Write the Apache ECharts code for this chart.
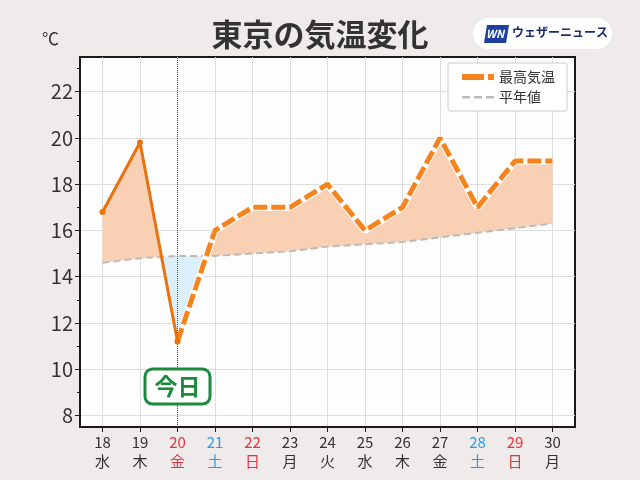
<!DOCTYPE html>
<html><head><meta charset="utf-8">
<script src="https://cdn.jsdelivr.net/npm/echarts@6/dist/echarts.min.js"></script>
<style>html,body{margin:0;padding:0;background:#efebea;}#c{width:640px;height:480px;}</style>
</head><body><div id="c"></div>
<script>
const days = [18,19,20,21,22,23,24,25,26,27,28,29,30];
const weekdays = ['水','木','金','土','日','月','火','水','木','金','土','日','月'];
const dayColors = ['k','k','r','b','r','k','k','k','k','k','b','r','k'];
const maxTemp = [16.8,19.8,11.2,16,17,17,18,16,17,20,17,19,19];
const normalTemp = [14.6,14.8,14.9,14.9,15.0,15.1,15.3,15.4,15.5,15.7,15.9,16.1,16.3];
const observedCount = 3; // 18..20 observed
const yTicks = [8,10,12,14,16,18,20,22];
const yMinorTicks = [9,11,13,15,17,19,21,23];
const todayDay = 20;

const FONT = '"Noto Sans CJK JP", "Noto Sans", sans-serif';
const peach = '#f9d0b3', blue = '#dbeffa';

const segData = [];
for (let i = 0; i < days.length - 1; i++) {
  segData.push([days[i], maxTemp[i], normalTemp[i], days[i+1], maxTemp[i+1], normalTemp[i+1]]);
}
const obs = days.slice(0, observedCount).map((d,i)=>[d, maxTemp[i]]);
const fc = days.slice(observedCount-1).map((d,i)=>[d, maxTemp[i+observedCount-1]]);
const norm = days.map((d,i)=>[d, normalTemp[i]]);

const chart = echarts.init(document.getElementById('c'));
const colorMap = {k:'#333333', r:'#e8323c', b:'#2b9be0'};

chart.setOption({
  backgroundColor: '#efebea',
  animation: false,
  textStyle: {fontFamily: FONT},
  grid: {left: 80, right: 65, top: 57, bottom: 53, show: true, backgroundColor: '#fdfdfd', borderColor: '#1a1a1a', borderWidth: 2},
  title: {text: '東京の気温変化', left: 'center', top: 14, textStyle: {fontFamily: FONT, fontSize: 31, fontWeight: 'bold', color: '#333'}},
  legend: {
    data: [
      {name: '最高気温', icon: 'path://M0,0M32,14M0,4H22V10H0ZM26,4H32V10H26Z', itemStyle: {color: '#f5841f'}},
      {name: '平年値', icon: 'path://M0,0M32,14M0,6H8V8.5H0ZM12,6H20V8.5H12ZM24,6H32V8.5H24Z', itemStyle: {color: '#bbbbbb'}}
    ],
    right: 73, top: 63, orient: 'vertical',
    backgroundColor: '#fff', borderColor: '#cccccc', borderWidth: 1, borderRadius: 2,
    padding: [7, 12, 7, 14], itemGap: 6, itemWidth: 32, itemHeight: 14,
    textStyle: {fontFamily: FONT, fontSize: 14, color: '#333'}
  },
  xAxis: {
    type: 'value', min: 17.4, max: 30.6,
    axisLine: {show: true, lineStyle: {color: '#1a1a1a', width: 2}},
    axisTick: {show: true, length: 5, lineStyle: {color: '#1a1a1a'}, customValues: days},
    axisLabel: {
      customValues: days, margin: 6, lineHeight: 19,
      formatter: function (v) {
        const i = days.indexOf(v);
        if (i < 0) return '';
        const c = dayColors[i];
        return '{' + c + '|' + v + '}\n{' + c + '|' + weekdays[i] + '}';
      },
      rich: {
        k: {color: colorMap.k, fontSize: 15, fontFamily: FONT, lineHeight: 19},
        r: {color: colorMap.r, fontSize: 15, fontFamily: FONT, lineHeight: 19},
        b: {color: colorMap.b, fontSize: 15, fontFamily: FONT, lineHeight: 19}
      }
    },
    splitLine: {show: true, lineStyle: {color: '#dddddd', width: 1}}
  },
  yAxis: [{
    type: 'value', min: 7.5, max: 23.5,
    axisLine: {show: true, lineStyle: {color: '#1a1a1a', width: 2}},
    axisTick: {show: true, length: 5, lineStyle: {color: '#1a1a1a'}, customValues: yTicks},
    axisLabel: {customValues: yTicks, fontSize: 20, color: '#333', margin: 7, fontFamily: FONT},
    splitLine: {show: true, lineStyle: {color: '#dddddd', width: 1}}
  }, {
    type: 'value', min: 7.5, max: 23.5, position: 'left',
    axisLine: {show: false},
    axisTick: {show: true, length: 3, lineStyle: {color: '#1a1a1a'}, customValues: yMinorTicks},
    axisLabel: {show: false},
    splitLine: {show: false}
  }],
  series: [
    {
      type: 'custom', name: 'fill', z: 1, silent: true,
      data: segData,
      encode: {x: [0, 3], y: [1, 2, 4, 5]},
      renderItem: function (params, api) {
        const x0 = api.value(0), m0 = api.value(1), n0 = api.value(2);
        const x1 = api.value(3), m1 = api.value(4), n1 = api.value(5);
        const d0 = m0 - n0, d1 = m1 - n1;
        const P = (x, y) => api.coord([x, y]);
        const children = [];
        if (d0 * d1 >= 0) {
          children.push({type: 'polygon', shape: {points: [P(x0,m0), P(x1,m1), P(x1,n1), P(x0,n0)]}, style: {fill: (d0 + d1) >= 0 ? peach : blue}});
        } else {
          const t = d0 / (d0 - d1);
          const xc = x0 + t * (x1 - x0), yc = n0 + t * (n1 - n0);
          children.push({type: 'polygon', shape: {points: [P(x0,m0), P(xc,yc), P(x0,n0)]}, style: {fill: d0 > 0 ? peach : blue}});
          children.push({type: 'polygon', shape: {points: [P(xc,yc), P(x1,m1), P(x1,n1)]}, style: {fill: d1 > 0 ? peach : blue}});
        }
        return {type: 'group', children: children};
      }
    },
    {
      type: 'line', name: '平年値', data: norm, z: 3, showSymbol: false, symbol: 'none',
      lineStyle: {color: '#bbbbbb', width: 2, type: [7, 4]}, itemStyle: {color: '#bbbbbb'}
    },
    {
      type: 'line', name: 'fcbase', data: fc, z: 4, showSymbol: false, symbol: 'none',
      lineStyle: {color: '#ffffff', width: 7}
    },
    {
      type: 'line', name: '最高気温', data: fc, z: 5, showSymbol: false, symbol: 'none',
      lineStyle: {color: '#f5841f', width: 5, type: [14, 4]}, itemStyle: {color: '#f5841f'}
    },
    {
      type: 'line', name: 'obs', data: obs, z: 6, symbol: 'circle', symbolSize: 6, showSymbol: true,
      lineStyle: {color: '#e8720e', width: 3}, itemStyle: {color: '#e8720e'},
      markLine: {
        silent: true, symbol: 'none', label: {show: false},
        lineStyle: {color: '#555', width: 1, type: 'dotted'},
        data: [{xAxis: todayDay}]
      },
      markPoint: {
        silent: true, symbol: 'rect', symbolSize: 0,
        data: [{coord: [todayDay, 9.25], value: '今日'}],
        label: {
          show: true, formatter: '今日', position: 'inside',
          fontSize: 23, fontWeight: 'bold', color: '#1b8a3c', fontFamily: FONT,
          backgroundColor: '#ffffff', borderColor: '#1b8a3c', borderWidth: 3, borderRadius: 6,
          padding: [5, 8, 4, 8]
        }
      }
    }
  ],
  graphic: [
    {type: 'text', left: 42, top: 30, style: {text: '℃', fontSize: 17, fill: '#333', fontFamily: FONT}},
    {type: 'rect', shape: {x: 473, y: 18, width: 139, height: 31, r: 15.5}, style: {fill: '#ffffff'}},
    {type: 'polygon', shape: {points: [[487,25],[509,25],[506,43],[484,43]]}, style: {fill: '#1e3f9e'}},
    {type: 'text', x: 486, y: 28, style: {text: 'WN', fontSize: 11, fontWeight: 'bold', fontStyle: 'italic', fill: '#fff', fontFamily: FONT}},
    {type: 'text', x: 512, y: 26, style: {text: 'ウェザーニュース', fontSize: 12, fontWeight: 'bold', fill: '#1b2c6e', fontFamily: FONT}}
  ]
});
</script></body></html>
